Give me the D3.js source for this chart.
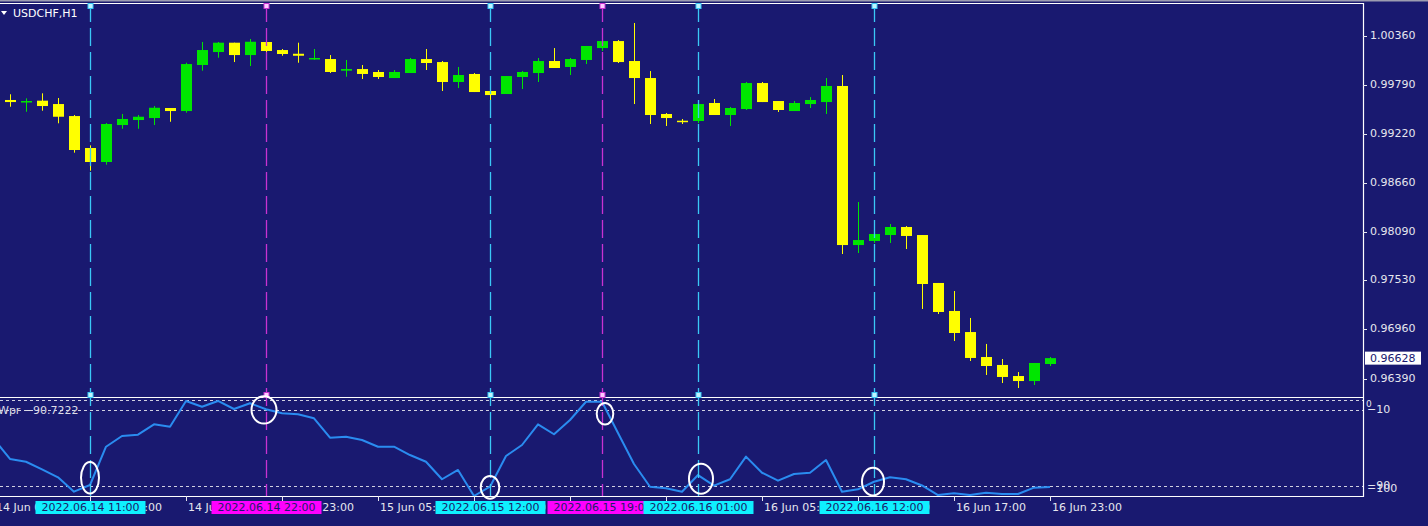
<!DOCTYPE html>
<html><head><meta charset="utf-8">
<script src="https://cdn.jsdelivr.net/npm/d3@7"></script>
<style>html,body{margin:0;padding:0;background:#191970;overflow:hidden}svg{display:block}</style>
</head><body>
<svg id="c" width="1428" height="526"></svg>
<script>
// ---------- data ----------
const symbol = "USDCHF,H1";
const firstBar = "2022-06-14 06:00";
const lastBar = "2022-06-16 23:00";
const open = [
0.99616,0.99592,0.99608,0.99569,0.99430,0.99060,0.98898,0.99326,0.99384,0.99407,
0.99523,0.99488,1.00021,1.00171,1.00279,1.00136,1.00287,1.00194,1.00151,1.00087,
1.00090,0.99955,0.99974,0.99940,0.99870,0.99928,1.00090,1.00055,0.99824,0.99917,
0.99720,0.99685,0.99882,0.99928,1.00067,0.99998,1.00079,1.00217,1.00298,1.00067,
0.99870,0.99454,0.99376,0.99373,0.99581,0.99442,0.99511,0.99812,0.99604,0.99488,
0.99569,0.99592,0.99778,0.97937,0.97984,0.98053,0.98146,0.98053,0.97498,0.97174,
0.96930,0.96641,0.96549,0.96421,0.96363,0.96560];
const high = [
0.99682,0.99635,0.99693,0.99639,0.99442,0.99091,0.99349,0.99454,0.99442,0.99546,
0.99523,1.00047,1.00287,1.00287,1.00279,1.00322,1.00298,1.00206,1.00279,1.00206,
1.00136,1.00079,1.00021,0.99963,0.99963,1.00102,1.00206,1.00067,0.99998,0.99928,
0.99720,0.99893,0.99951,1.00102,1.00217,1.00102,1.00241,1.00298,1.00310,1.00507,
0.99951,0.99465,0.99396,0.99569,0.99627,0.99535,0.99824,0.99824,0.99604,0.99604,
0.99650,0.99870,0.99905,0.98435,0.98065,0.98180,0.98157,0.98053,0.97498,0.97405,
0.97093,0.96792,0.96618,0.96467,0.96572,0.96641];
const low = [
0.99538,0.99480,0.99492,0.99346,0.99006,0.98797,0.98867,0.99283,0.99283,0.99326,
0.99364,0.99469,0.99955,1.00105,1.00055,1.00009,1.00136,1.00128,1.00047,1.00079,
0.99928,0.99885,0.99859,0.99859,0.99870,0.99928,0.99963,0.99720,0.99754,0.99708,
0.99616,0.99685,0.99743,0.99824,0.99986,0.99905,1.00032,1.00183,1.00044,0.99569,
0.99338,0.99315,0.99338,0.99349,0.99442,0.99315,0.99500,0.99592,0.99477,0.99488,
0.99523,0.99454,0.97833,0.97845,0.97961,0.97961,0.97891,0.97197,0.97139,0.96826,
0.96595,0.96433,0.96340,0.96282,0.96317,0.96537];
const close = [
0.99592,0.99604,0.99546,0.99422,0.99037,0.98898,0.99338,0.99396,0.99422,0.99526,
0.99488,1.00032,1.00194,1.00279,1.00136,1.00290,1.00183,1.00148,1.00128,1.00102,
0.99940,0.99974,0.99917,0.99882,0.99940,1.00090,1.00044,0.99824,0.99905,0.99708,
0.99673,0.99893,0.99940,1.00067,0.99986,1.00090,1.00241,1.00298,1.00055,0.99870,
0.99442,0.99407,0.99364,0.99569,0.99442,0.99523,0.99812,0.99592,0.99500,0.99581,
0.99616,0.99778,0.97937,0.97995,0.98065,0.98146,0.98042,0.97486,0.97162,0.96919,
0.96630,0.96537,0.96410,0.96363,0.96572,0.96628];
const wprFirstBar = "2022-06-14 05:00";
const wpr = [
-40.7,-61.3,-64.2,-72.1,-80.5,-95.5,-88.5,-48.5,-37.3,-35.9,-25.1,
-27.6,-0.7,-6.7,-0.7,-9.1,-3.1,-9.4,-13.6,-14.6,-18.8,
-39.1,-38.0,-41.5,-48.5,-48.5,-57.2,-64.2,-82.5,-72.8,-100,
-90.3,-58.2,-46.7,-25.1,-35.5,-20.6,-1.5,-1.5,-34.2,-66.6,
-90.3,-92.0,-95.5,-78.1,-89.2,-82.5,-58.9,-75.7,-84.0,-77.0,
-75.7,-62.4,-95.5,-93.0,-85.1,-80.5,-82.5,-89.0,-99.0,-97.2,
-99.0,-96.6,-97.9,-97.9,-91.3,-90.7222];
const wprLevels = [0, -10, -90, -100];
const priceTicks = [1.00360, 0.99790, 0.99220, 0.98660, 0.98090, 0.97530, 0.96960, 0.96390];
const timeTicks = ["2022-06-14 05:00","2022-06-14 11:00","2022-06-14 17:00","2022-06-14 23:00",
  "2022-06-15 05:00","2022-06-15 11:00","2022-06-15 17:00","2022-06-15 23:00",
  "2022-06-16 05:00","2022-06-16 11:00","2022-06-16 17:00","2022-06-16 23:00"];
const signalTimes = ["2022-06-14 11:00","2022-06-14 22:00","2022-06-15 12:00","2022-06-15 19:00","2022-06-16 01:00","2022-06-16 12:00"];
const signalTypes = ["buy","sell","buy","sell","buy","buy"];
const signalWpr = [-81, -10, -91, -14, -82, -85];

// ---------- style ----------
const ringRx = [9,12.5,9.3,8.3,12,11], ringRy = [15.7,13.7,11.3,10.8,15,13.8], ringDx = [0,-2,0,3,3,-1];
const BG = "#191970", UP = "#00e600", DN = "#ffff00", FG = "#e6e6ee";
const lineCol = {buy:"#3ac8f6", sell:"#c832d2"};
const boxCol = {buy:"#0ff0ff", sell:"#ff00ff"};
const FONT = "DejaVu Sans";
const L = 0, R = 1363, mainTop = 3.5, mainBot = 397.5, indTop = 400.3, indBot = 496;

const parse = d3.utcParse("%Y-%m-%d %H:%M");
const times = d3.utcHour.range(parse(firstBar), d3.utcHour.offset(parse(lastBar), 1));
const wprTimes = d3.utcHour.range(parse(wprFirstBar), d3.utcHour.offset(parse(lastBar), 1));
const bars = times.map((t, i) => ({t, o: open[i], h: high[i], l: low[i], c: close[i]}));

const x = d3.scaleUtc().domain([parse(firstBar), parse(lastBar)]).range([10, 1050]);
const y = d3.scaleLinear().domain([0.96390, 1.00360]).range([378.7, 35.7]);
const yw = d3.scaleLinear().domain([-100, 0]).range([indBot, indTop]);

const svg = d3.select("#c").style("font-family", FONT);
svg.append("rect").attr("width", 1428).attr("height", 526).attr("fill", BG);
const defs = svg.append("defs");
defs.append("clipPath").attr("id","cm").append("rect").attr("x",L).attr("y",mainTop).attr("width",R-L).attr("height",mainBot-mainTop);
defs.append("clipPath").attr("id","ci").append("rect").attr("x",L).attr("y",398).attr("width",R-L).attr("height",indBot-398+1);

// window top edge
svg.append("rect").attr("x",0).attr("y",0).attr("width",1428).attr("height",1.5).attr("fill","#9c9cb0");

// ---------- main panel ----------
const gm = svg.append("g").attr("clip-path","url(#cm)");
const bw = 11;
gm.selectAll("line.wick").data(bars).join("line").attr("class","wick")
  .attr("x1", d => Math.round(x(d.t)) + 0.5).attr("x2", d => Math.round(x(d.t)) + 0.5)
  .attr("y1", d => y(d.h)).attr("y2", d => y(d.l))
  .attr("stroke", d => d.c >= d.o ? UP : DN).attr("stroke-width", 1);
gm.selectAll("rect.body").data(bars).join("rect").attr("class","body")
  .attr("x", d => Math.round(x(d.t)) + 0.5 - bw/2)
  .attr("width", bw)
  .attr("y", d => y(Math.max(d.o, d.c)))
  .attr("height", d => Math.max(1.5, Math.abs(y(d.o) - y(d.c))))
  .attr("fill", d => d.c >= d.o ? UP : DN);

// ---------- indicator ----------
const gi = svg.append("g").attr("clip-path","url(#ci)");
gi.selectAll("line.lvl").data(wprLevels.filter(v => v > -100)).join("line").attr("class","lvl")
  .attr("x1", L).attr("x2", R).attr("y1", d => Math.round(yw(d)) + 0.5).attr("y2", d => Math.round(yw(d)) + 0.5)
  .attr("stroke", "#d0d0e0").attr("stroke-width", 1).attr("stroke-dasharray", "3,3");
gi.append("path").datum(wpr.map((v, i) => ({t: wprTimes[i], v})))
  .attr("d", d3.line().x(d => x(d.t)).y(d => yw(d.v)))
  .attr("fill","none").attr("stroke","#2a8cf0").attr("stroke-width",2).attr("stroke-linejoin","round");
svg.append("text").attr("x",-2).attr("y",410.5).attr("dominant-baseline","middle")
  .attr("fill","#dcdce6").attr("font-size",11).text("Wpr " + d3.format(".4f")(wpr[wpr.length-1]));

// ---------- frames ----------
const fr = svg.append("g").attr("stroke","#ffffff").attr("stroke-width",1.2);
fr.append("line").attr("x1",0).attr("x2",R).attr("y1",3.5).attr("y2",3.5);
fr.append("line").attr("x1",0).attr("x2",R).attr("y1",397.5).attr("y2",397.5);
fr.append("line").attr("x1",0).attr("x2",R).attr("y1",496.5).attr("y2",496.5);
fr.append("line").attr("x1",R+0.5).attr("x2",R+0.5).attr("y1",3).attr("y2",497);

// price axis
const pa = svg.append("g");
pa.selectAll("line").data(priceTicks).join("line")
  .attr("x1",R).attr("x2",R+4).attr("y1",d=>Math.round(y(d))+0.5).attr("y2",d=>Math.round(y(d))+0.5)
  .attr("stroke",FG);
pa.selectAll("text").data(priceTicks).join("text")
  .attr("x",R+7).attr("y",d=>y(d)).attr("dominant-baseline","middle")
  .attr("fill",FG).attr("font-size",11).text(d => d3.format(".5f")(d));
// current price box
const last = close[close.length-1];
svg.append("rect").attr("x",R+2).attr("y",y(last)-6.5).attr("width",56).attr("height",13).attr("fill","#ffffff");
svg.append("text").attr("x",R+7).attr("y",y(last)+0.5).attr("dominant-baseline","middle")
  .attr("fill","#191970").attr("font-size",11).text(d3.format(".5f")(last));

// wpr axis labels
svg.selectAll("text.wl").data(wprLevels).join("text").attr("class","wl")
  .attr("x", d => d === 0 ? R+3 : R+4).attr("y", d => Math.max(404, Math.min(489, yw(d))))
  .attr("dominant-baseline","middle").attr("fill",FG).attr("font-size", d => d === 0 ? 9 : 11)
  .text(d => d3.format("d")(d));

// time axis
const fmtT = d3.utcFormat("%d %b %H:%M");
const tt = timeTicks.map(parse);
svg.selectAll("line.tt").data(tt).join("line").attr("class","tt")
  .attr("x1",d=>Math.round(x(d))+0.5).attr("x2",d=>Math.round(x(d))+0.5).attr("y1",496).attr("y2",501)
  .attr("stroke",FG);
svg.selectAll("text.tl").data(tt).join("text").attr("class","tl")
  .attr("x",d=>x(d)+2).attr("y",508).attr("dominant-baseline","middle")
  .attr("fill",FG).attr("font-size",11).text(fmtT);

// ---------- signals ----------
const sig = signalTimes.map((s, i) => ({t: parse(s), type: signalTypes[i], w: signalWpr[i], i}));
const gs = svg.append("g");
gs.selectAll("line").data(sig).join("line")
  .attr("x1",d=>Math.round(x(d.t))+0.5).attr("x2",d=>Math.round(x(d.t))+0.5)
  .attr("y1",4).attr("y2",496).attr("stroke",d=>lineCol[d.type]).attr("stroke-width",1.3)
  .attr("stroke-dasharray","18,6");
[6, 395].forEach(my => {
  gs.selectAll(null).data(sig).join("rect")
    .attr("x",d=>Math.round(x(d.t))-2).attr("y",my-2.5).attr("width",5).attr("height",5)
    .attr("fill",d=>d.type==="buy"?"#bff4ff":"#ffc8ff").attr("stroke",d=>lineCol[d.type]).attr("stroke-width",1);
});
gs.selectAll("ellipse").data(sig).join("ellipse")
  .attr("cx",d=>x(d.t)+ringDx[d.i]).attr("cy",d=>yw(d.w))
  .attr("rx",d=>ringRx[d.i]).attr("ry",d=>ringRy[d.i])
  .attr("fill","none").attr("stroke","#ffffff").attr("stroke-width",2);
// time labels for signals
const fmtS = d3.utcFormat("%Y.%m.%d %H:%M");
sig.forEach(d => {
  const cx = Math.round(x(d.t)) + 0.5;
  svg.append("rect").attr("x",cx-55).attr("y",501).attr("width",110).attr("height",13).attr("fill",boxCol[d.type]);
  svg.append("text").attr("x",cx).attr("y",508).attr("text-anchor","middle").attr("dominant-baseline","middle")
    .attr("fill","#1b1b6a").attr("font-size",11).text(fmtS(d.t));
});

// symbol title
svg.append("path").attr("d","M1,11 L7,11 L4,15 Z").attr("fill","#ffffff");
svg.append("text").attr("x",13).attr("y",14).attr("dominant-baseline","middle")
  .attr("fill","#ffffff").attr("font-size",11).text(symbol);
</script>
</body></html>
